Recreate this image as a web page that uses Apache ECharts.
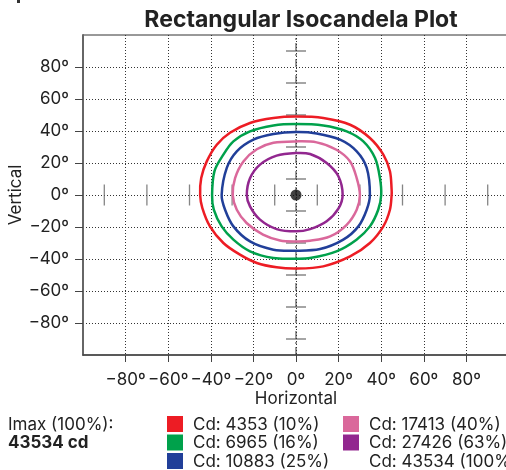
<!DOCTYPE html>
<html><head><meta charset="utf-8">
<script src="https://cdn.jsdelivr.net/npm/echarts@6/dist/echarts.min.js"></script>
<style>html,body{margin:0;padding:0;background:#fff}#c{width:506px;height:470px}</style>
</head><body><div id="c"></div>
<script>
// Tick values
const xTicks = [-80,-60,-40,-20,0,20,40,60,80];
const yTicks = [-80,-60,-40,-20,0,20,40,60,80];
// Crosshair mark positions (degrees)
const crossMarks = [-90,-70,-50,-30,-10,10,30,50,70,90];

// Isocandela contours [horizontal, vertical] in degrees (closed loops)
const red = [[0,49],[12.8,48.1],[25.4,43.9],[34.7,35.6],[41,25.2],[44.1,14.8],[44.9,3.3],[44.9,0],[44.1,-9.2],[41,-19.6],[34.7,-30],[25.4,-38.4],[12.8,-44.6],[0,-46],[-9.1,-45.2],[-18.4,-42.5],[-26.3,-37.3],[-34.1,-30],[-40.4,-19.6],[-44,-8],[-45,0],[-44.5,10.6],[-41.9,21],[-37.2,31.4],[-31,38.9],[-21.6,45],[-10.6,48.1]];
const green = [[0,44.4],[12.8,43.5],[23.8,39.8],[31.6,33.5],[37.1,23.1],[39.4,10.6],[40,0],[38.6,-9.2],[34.7,-19.6],[28.4,-27.9],[19,-35.2],[6.6,-39.4],[0,-39.8],[-10.6,-39.4],[-21.6,-35.2],[-29.4,-27.9],[-34.9,-19.6],[-38.6,-9.2],[-39.4,0],[-38.3,14.8],[-34.1,25.2],[-29.4,33.5],[-21.6,39.8],[-10.6,43.5]];
const blue = [[0,39.4],[9.7,38.5],[20.7,34.6],[28.5,27.3],[33.2,16.9],[34.7,0],[33.2,-9.2],[29.3,-19.6],[22.2,-27.9],[11.3,-33.8],[0,-34.8],[-10.6,-34.2],[-21.6,-29],[-29.4,-19.6],[-33.3,-9.2],[-34.9,0],[-32.5,16.9],[-27.8,27.3],[-20,34.6],[-10.6,38.1]];
const pink = [[0,33.5],[9.7,32.9],[19,28.3],[25.4,21],[28.5,10.6],[30,0],[28.5,-9.2],[23.8,-18.6],[16,-25.9],[6.6,-28.6],[0,-29],[-7.5,-28.4],[-15.5,-24.8],[-23.2,-17.5],[-27.8,-9.2],[-29.7,0],[-28.6,10.6],[-24.7,21],[-18.4,28.6],[-10.6,32.6]];
const purple = [[0,26.2],[6.6,25.6],[14.4,20],[19.9,11.7],[21.9,0],[19.9,-8.5],[14.4,-16.4],[6.6,-21.3],[0,-22.7],[-9.1,-21.3],[-16.9,-15.4],[-21.6,-7.1],[-23.1,0],[-21.6,10.5],[-16.9,19],[-9.1,24.6]];

const imaxLabel = "Imax (100%):";
const imaxValue = "43534 cd";
const legendLabels = ["Cd: 4353 (10%)","Cd: 6965 (16%)","Cd: 10883 (25%)","Cd: 17413 (40%)","Cd: 27426 (63%)","Cd: 43534 (100%)"];
const colors = ["#ED1C24","#00A14B","#213F99","#DA689B","#92278F",null];

const FONT = "Inter";
const fmt = v => (v < 0 ? "\u2212" : "") + Math.abs(v) + "\u00BA";

const contours = [red, green, blue, pink, purple];
const series = contours.map((pts, i) => ({
  type: "custom", silent: true, z: 5,
  data: pts,
  encode: { x: 0, y: 1 },
  renderItem: (params, api) => {
    if (params.dataIndex !== 0) return null;
    return {
      type: "polygon",
      shape: { points: pts.map(p => api.coord(p)), smooth: 0.33 },
      style: { fill: "none", stroke: colors[i], lineWidth: 2.5 }
    };
  }
}));
series.push({
  type: "line", data: [[0,-100],[0,100]], showSymbol: false, silent: true,
  lineStyle: { color: "#333", width: 1, type: [8,3,2,3] }, z: 3
});
series.push({
  type: "scatter", data: crossMarks.map(v => [0, v]), symbol: "rect",
  symbolSize: [20, 1.2], itemStyle: { color: "#444" }, silent: true, z: 4
});
series.push({
  type: "scatter", data: crossMarks.map(v => [v, 0]), symbol: "rect",
  symbolSize: [1.3, 21], itemStyle: { color: "#666" }, silent: true, z: 4
});
series.push({
  type: "scatter", data: [[0,0]], symbol: "circle", symbolSize: 11,
  itemStyle: { color: "#111" }, silent: true, z: 6
});

const graphics = [
  { type: "rect", shape: { x: 17, y: 0, width: 3, height: 3 }, style: { fill: "#333" } },
  { type: "text", x: 8, y: 425, style: { text: imaxLabel, font: "17px " + FONT, fill: "#222", verticalAlign: "middle" } },
  { type: "text", x: 8, y: 443, style: { text: imaxValue, font: "bold 17px " + FONT, fill: "#222", verticalAlign: "middle" } }
];
legendLabels.forEach((lab, i) => {
  const col = i < 3 ? 0 : 1, row = i % 3;
  const sx = col === 0 ? 167 : 343, tx = col === 0 ? 193 : 369;
  const y = 416 + row * 18.5;
  if (colors[i]) graphics.push({ type: "rect", shape: { x: sx, y: y, width: 16, height: 16 }, style: { fill: colors[i] } });
  graphics.push({ type: "text", x: tx, y: y + 8.5, style: { text: lab, font: "17px " + FONT, fill: "#222", verticalAlign: "middle" } });
});

const chart = echarts.init(document.getElementById("c"));
chart.setOption({
  animation: false,
  backgroundColor: "#fff",
  textStyle: { fontFamily: FONT },
  title: { text: "Rectangular Isocandela Plot", left: 296, textAlign: "center", top: 4,
    textStyle: { fontSize: 23, fontWeight: "bold", color: "#222", fontFamily: FONT } },
  grid: { left: 83, top: 35, right: -3, bottom: 115, show: true, borderColor: "#333", borderWidth: 1,
    containLabel: false, outerBoundsMode: "none" },
  xAxis: {
    type: "value", min: -100, max: 100, interval: 20,
    name: "Horizontal", nameLocation: "middle", nameGap: 35, nameMoveOverlap: false,
    nameTextStyle: { fontSize: 17, color: "#222", fontFamily: FONT },
    axisLine: { show: true, onZero: false, lineStyle: { color: "#444", width: 1.5 } },
    axisTick: { show: true, length: 7, customValues: xTicks, lineStyle: { color: "#444" } },
    axisLabel: { customValues: xTicks, formatter: fmt, fontSize: 17, color: "#222", margin: 16, fontFamily: FONT },
    splitLine: { show: true, lineStyle: { color: "#333", width: 1, type: [1,2] } }
  },
  yAxis: {
    type: "value", min: -100, max: 100, interval: 20,
    name: "Vertical", nameLocation: "middle", nameGap: 59, nameMoveOverlap: false,
    nameTextStyle: { fontSize: 17, color: "#222", fontFamily: FONT },
    axisLine: { show: true, onZero: false, lineStyle: { color: "#666", width: 2 } },
    axisTick: { show: true, length: 8, customValues: yTicks, lineStyle: { color: "#444" } },
    axisLabel: { customValues: yTicks, formatter: fmt, fontSize: 17, color: "#222", margin: 14, fontFamily: FONT },
    splitLine: { show: true, lineStyle: { color: "#333", width: 1, type: [1,2] } }
  },
  graphic: graphics,
  series: series
});
</script></body></html>
